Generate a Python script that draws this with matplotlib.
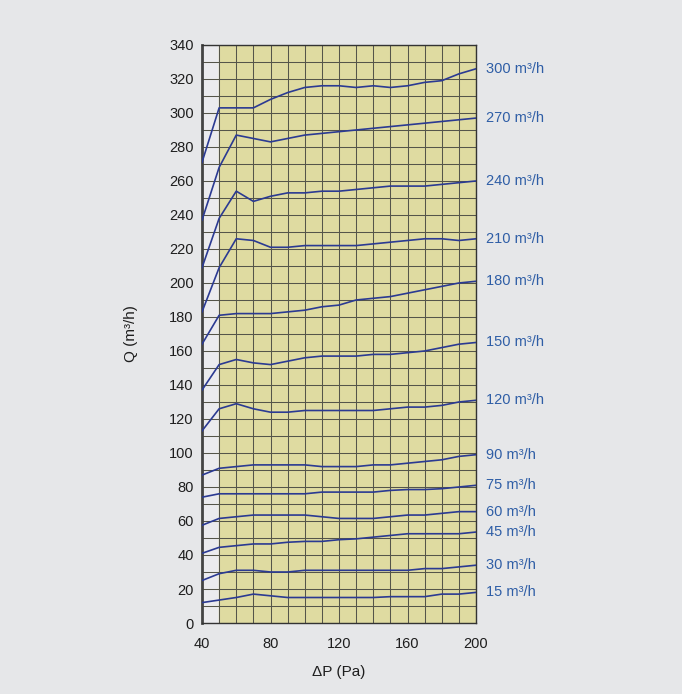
import matplotlib
matplotlib.use('Agg')
import matplotlib.pyplot as plt

plt.rcParams['font.family'] = ['Liberation Sans', 'DejaVu Sans']

# pressure drop (Pa)
dp = [40, 50, 60, 70, 80, 90, 100, 110, 120, 130, 140, 150, 160, 170, 180, 190, 200]

# flow curves (m3/h), one per setting
q300 = [271, 303, 303, 303, 308, 312, 315, 316, 316, 315, 316, 315, 316, 318, 319, 323, 326]
q270 = [237, 268, 287, 285, 283, 285, 287, 288, 289, 290, 291, 292, 293, 294, 295, 296, 297]
q240 = [209, 238, 254, 248, 251, 253, 253, 254, 254, 255, 256, 257, 257, 257, 258, 259, 260]
q210 = [183, 209, 226, 225, 221, 221, 222, 222, 222, 222, 223, 224, 225, 226, 226, 225, 226]
q180 = [164, 181, 182, 182, 182, 183, 184, 186, 187, 190, 191, 192, 194, 196, 198, 200, 201]
q150 = [137, 152, 155, 153, 152, 154, 156, 157, 157, 157, 158, 158, 159, 160, 162, 164, 165]
q120 = [113, 126, 129, 126, 124, 124, 125, 125, 125, 125, 125, 126, 127, 127, 128, 130, 131]
q90 = [87, 91, 92, 93, 93, 93, 93, 92, 92, 92, 93, 93, 94, 95, 96, 98, 99]
q75 = [74, 76, 76, 76, 76, 76, 76, 77, 77, 77, 77, 78, 78.5, 78.5, 79, 80, 81]
q60 = [57.5, 61.5, 62.5, 63.5, 63.5, 63.5, 63.5, 62.5, 61.5, 61.5, 61.5, 62.5, 63.5, 63.5, 64.5, 65.5, 65.5]
q45 = [41, 44.5, 45.5, 46.5, 46.5, 47.5, 48, 48, 49, 49.5, 50.5, 51.5, 52.5, 52.5, 52.5, 52.5, 53.5]
q30 = [25, 29, 31, 31, 30, 30, 31, 31, 31, 31, 31, 31, 31, 32, 32, 33, 34]
q15 = [12, 13.5, 15, 17, 16, 15, 15, 15, 15, 15, 15, 15.5, 15.5, 15.5, 17, 17, 18]

series = [q300, q270, q240, q210, q180, q150, q120, q90, q75, q60, q45, q30, q15]
labels = ['300 m³/h', '270 m³/h', '240 m³/h', '210 m³/h', '180 m³/h', '150 m³/h',
          '120 m³/h', '90 m³/h', '75 m³/h', '60 m³/h', '45 m³/h', '30 m³/h', '15 m³/h']

bg = '#e6e7e9'
fig = plt.figure(figsize=(6.82, 6.94), dpi=100, facecolor=bg)
ax = fig.add_axes([0.2962, 0.1023, 0.4018, 0.8329])
ax.set_facecolor('#ebebee')

# yellow working zone
ax.axvspan(50, 200, color='#dfdba1', zorder=0)

ax.set_xlim(40, 200)
ax.set_ylim(0, 340)
ax.set_xticks(range(40, 201, 40))
ax.set_yticks(range(0, 341, 20))
ax.set_xticks(range(40, 201, 10), minor=True)
ax.set_yticks(range(0, 341, 10), minor=True)
ax.grid(True, which='both', color='#55554a', linewidth=0.75, zorder=1)
ax.set_axisbelow(True)
ax.tick_params(which='both', length=0, labelsize=10.5, colors='#1e1e1e')
ax.tick_params(axis='y', pad=6)
ax.tick_params(axis='x', pad=10)

for side in ['top', 'right', 'bottom']:
    ax.spines[side].set_color('#333333')
    ax.spines[side].set_linewidth(1.0)
ax.spines['left'].set_color('#444444')
ax.spines['left'].set_linewidth(2.0)

for q, lab in zip(series, labels):
    ax.plot(dp, q, color='#2b3a92', linewidth=1.2, zorder=3)
    ax.annotate(lab, xy=(dp[-1], q[-1]), xytext=(7.5, 0), textcoords='offset points',
                va='center', ha='left', fontsize=10.5, color='#2f5ea6',
                annotation_clip=False)

ax.set_xlabel('ΔP (Pa)', fontsize=11, color='#1e1e1e', labelpad=10)
ax.set_ylabel('Q (m³/h)', fontsize=11, color='#1e1e1e', labelpad=22)

plt.savefig('out.png', dpi=100, facecolor=bg)
plt.close()
